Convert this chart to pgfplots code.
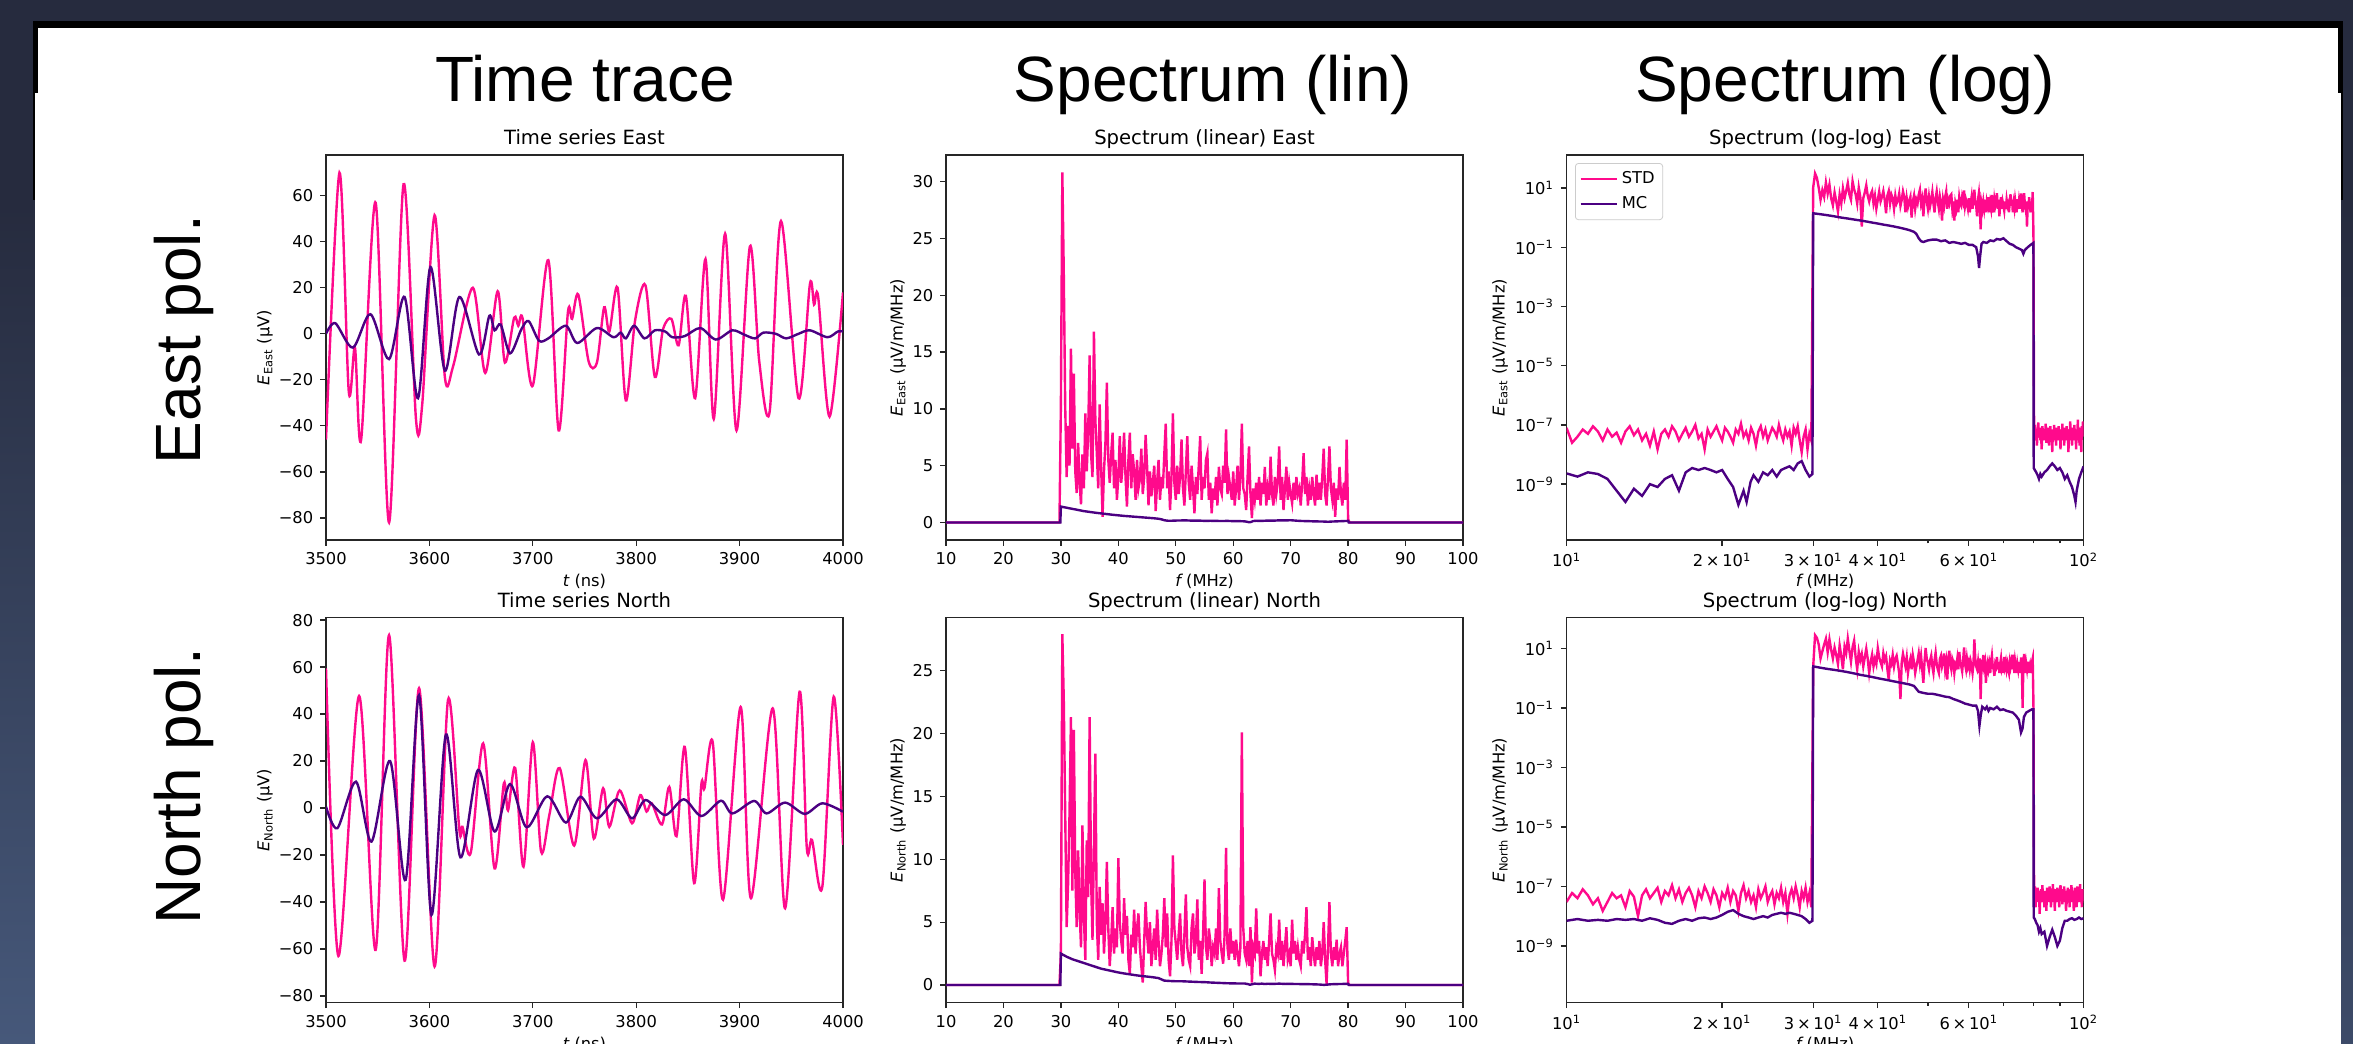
\documentclass[border=0pt]{standalone}
\usepackage{fontspec}
\setmainfont{DejaVu Sans}
\newfontfamily\arialf{Liberation Sans}
\usepackage{pgfplots}
\usepackage{pgfplotstable}
\pgfplotsset{compat=1.18}
\definecolor{stdc}{RGB}{255,10,140}
\definecolor{mcc}{RGB}{75,0,130}
\definecolor{bgc}{RGB}{38,43,62}
\definecolor{bgl}{RGB}{70,88,122}
\newcommand\tk{\fontsize{8.15pt}{9pt}\selectfont}
\newcommand\ttl{\fontsize{9.8pt}{11pt}\selectfont}
\newcommand\bigttl{\arialf\fontsize{32pt}{36pt}\selectfont}
\newcommand\sps[1]{\textsuperscript{#1}}

\pgfplotsset{
  mpl/.style={
    scale only axis, width=258.5pt, height=192.5pt,
    axis line style={black!85, line width=0.65pt},
    tick align=outside, tick pos=left,
    major tick length=2.85pt, minor tick length=1.63pt,
    every tick/.style={black!85, line width=0.65pt},
    ticklabel style={font=\tk},
    label style={font=\tk},
    every axis x label/.style={at={(axis description cs:0.5,0)}, anchor=base, yshift=-23.5pt, font=\tk},
    every axis title/.style={at={(0.5,1)}, anchor=base, yshift=5pt, font=\ttl},
    every axis plot/.append style={line width=1.2pt},
  },
  timeax/.style={mpl, xmin=3500, xmax=4000,
    xtick={3500,3600,3700,3800,3900,4000},
    xticklabels={3500,3600,3700,3800,3900,4000},
    every axis y label/.style={at={(axis description cs:-0.118,0.5)}, rotate=90, anchor=center, font=\tk},
    xlabel={{\itshape t} (ns)}},
  linax/.style={mpl, xmin=10, xmax=100,
    xtick={10,20,30,40,50,60,70,80,90,100},
    xticklabels={10,20,30,40,50,60,70,80,90,100},
    every axis y label/.style={at={(axis description cs:-0.0927,0.5)}, rotate=90, anchor=center, font=\tk},
    xlabel={{\itshape f} (MHz)}},
  logax/.style={mpl, xmin=10, xmax=100,
    xtick={10,100}, xticklabels={10\sps{1},10\sps{2}},
    extra x ticks={20,30,40,60},
    extra x tick labels={2\,×\,10\sps{1},3\,×\,10\sps{1},4\,×\,10\sps{1},6\,×\,10\sps{1}},
    minor xtick={50,70,80,90}, yminorticks=false,
    ytick={1e-9,1e-7,1e-5,1e-3,1e-1,1e1},
    yticklabels={10\sps{−9},10\sps{−7},10\sps{−5},10\sps{−3},10\sps{−1},10\sps{1}},
    every axis y label/.style={at={(axis description cs:-0.1286,0.5)}, rotate=90, anchor=center, font=\tk},
    xlabel={{\itshape f} (MHz)}},
}

% ---------- spectra, East (f in MHz, amplitude in muV/m/MHz) ----------
\pgfplotstableread[row sep=\\]{f v\\
10.00 8e-8\\ 10.25 2.5e-8\\ 10.50 4e-8\\ 10.75 7e-8\\ 11.00 5e-8\\ 11.25 9e-8\\ 11.50 6e-8\\ 11.75 3e-8\\
12.00 7e-8\\ 12.25 4e-8\\ 12.50 5.5e-8\\ 12.75 2.5e-8\\ 13.00 6e-8\\ 13.25 9e-8\\ 13.50 4.5e-8\\ 13.75 7e-8\\
14.00 3e-8\\ 14.25 5e-8\\ 14.50 2e-8\\ 14.75 6e-8\\ 15.00 1.5e-8\\ 15.25 5e-8\\ 15.50 7e-8\\ 15.75 4e-8\\
16.00 9e-8\\ 16.25 6e-8\\ 16.50 3e-8\\ 16.75 5e-8\\ 17.00 8e-8\\ 17.25 4e-8\\ 17.50 6e-8\\ 17.75 1e-7\\
18.00 3.5e-8\\ 18.25 5e-8\\ 18.50 1.5e-8\\ 18.75 7e-8\\ 19.00 4e-8\\ 19.25 6e-8\\ 19.50 9e-8\\ 19.75 5e-8\\
20.00 3e-8\\ 20.25 8e-8\\ 20.50 6e-8\\ 20.75 4e-8\\ 21.00 2.5e-8\\ 21.25 7e-8\\ 21.50 5e-8\\ 21.75 1.1e-7\\
22.00 4e-8\\ 22.25 6e-8\\ 22.50 3e-8\\ 22.75 8e-8\\ 23.00 5e-8\\ 23.25 2e-8\\ 23.50 6e-8\\ 23.75 9e-8\\
24.00 4e-8\\ 24.25 7e-8\\ 24.50 3e-8\\ 24.75 5e-8\\ 25.00 8e-8\\ 25.25 6e-8\\ 25.50 4e-8\\ 25.75 1e-7\\
26.00 5e-8\\ 26.25 3e-8\\ 26.50 7e-8\\ 26.75 4e-8\\ 27.00 6e-8\\ 27.25 2e-8\\ 27.50 8e-8\\ 27.75 5e-8\\
28.00 9e-8\\ 28.25 3e-8\\ 28.50 1.2e-8\\ 28.75 4e-8\\ 29.00 7e-8\\ 29.25 1.5e-8\\ 29.50 5e-8\\ 29.75 3e-8\\
30.00 10.5\\ 30.25 30.8\\ 30.50 22.0\\ 30.75 10.2\\ 31.00 4.0\\ 31.25 8.5\\ 31.50 5.0\\ 31.75 15.3\\
32.00 6.5\\ 32.25 13.1\\ 32.50 4.5\\ 32.75 2.6\\ 33.00 7.0\\ 33.25 3.5\\ 33.50 1.6\\ 33.75 6.0\\
34.00 3.0\\ 34.25 9.6\\ 34.50 4.5\\ 34.75 8.0\\ 35.00 14.7\\ 35.25 6.0\\ 35.50 4.0\\ 35.75 16.8\\
36.00 9.0\\ 36.25 6.1\\ 36.50 3.0\\ 36.75 10.4\\ 37.00 5.0\\ 37.25 0.5\\ 37.50 4.5\\ 37.75 7.0\\
38.00 12.3\\ 38.25 5.5\\ 38.50 3.5\\ 38.75 6.0\\ 39.00 7.9\\ 39.25 3.0\\ 39.50 5.5\\ 39.75 2.0\\
40.00 4.0\\ 40.25 7.6\\ 40.50 3.5\\ 40.75 5.0\\ 41.00 7.9\\ 41.25 4.0\\ 41.50 1.4\\ 41.75 5.5\\
42.00 7.9\\ 42.25 3.0\\ 42.50 6.0\\ 42.75 4.5\\ 43.00 2.0\\ 43.25 5.5\\ 43.50 3.0\\ 43.75 3.8\\
44.00 6.5\\ 44.25 2.5\\ 44.50 4.0\\ 44.75 7.7\\ 45.00 5.0\\ 45.25 1.5\\ 45.50 4.5\\ 45.75 2.3\\
46.00 3.5\\ 46.25 5.0\\ 46.50 1.0\\ 46.75 3.5\\ 47.00 5.5\\ 47.25 2.0\\ 47.50 4.0\\ 47.75 3.0\\
48.00 6.0\\ 48.25 8.7\\ 48.50 3.0\\ 48.75 4.5\\ 49.00 1.1\\ 49.25 4.0\\ 49.50 9.6\\ 49.75 3.5\\
50.00 2.0\\ 50.25 5.0\\ 50.50 2.5\\ 50.75 4.0\\ 51.00 7.3\\ 51.25 3.0\\ 51.50 1.5\\ 51.75 4.5\\
52.00 7.6\\ 52.25 3.5\\ 52.50 2.0\\ 52.75 5.0\\ 53.00 3.0\\ 53.25 0.8\\ 53.50 4.0\\ 53.75 2.5\\
54.00 5.0\\ 54.25 7.6\\ 54.50 2.0\\ 54.75 4.0\\ 55.00 3.0\\ 55.25 5.5\\ 55.50 6.1\\ 55.75 2.0\\
56.00 3.5\\ 56.25 0.8\\ 56.50 3.0\\ 56.75 2.0\\ 57.00 4.0\\ 57.25 1.5\\ 57.50 4.9\\ 57.75 3.0\\
58.00 2.5\\ 58.25 5.0\\ 58.50 3.5\\ 58.75 8.2\\ 59.00 2.5\\ 59.25 4.0\\ 59.50 3.0\\ 59.75 2.0\\
60.00 4.5\\ 60.25 1.5\\ 60.50 3.0\\ 60.75 5.0\\ 61.00 2.0\\ 61.25 4.0\\ 61.50 8.7\\ 61.75 3.0\\
62.00 2.5\\ 62.25 1.1\\ 62.50 4.0\\ 62.75 6.7\\ 63.00 2.5\\ 63.25 0.4\\ 63.50 3.0\\ 63.75 2.0\\
64.00 3.5\\ 64.25 2.0\\ 64.50 4.0\\ 64.75 1.5\\ 65.00 3.5\\ 65.25 2.5\\ 65.50 4.9\\ 65.75 1.5\\
66.00 3.0\\ 66.25 2.0\\ 66.50 5.8\\ 66.75 2.5\\ 67.00 1.5\\ 67.25 4.0\\ 67.50 2.5\\ 67.75 3.5\\
68.00 6.7\\ 68.25 2.0\\ 68.50 4.0\\ 68.75 1.1\\ 69.00 3.0\\ 69.25 4.9\\ 69.50 2.0\\ 69.75 3.5\\
70.00 2.5\\ 70.25 1.7\\ 70.50 3.5\\ 70.75 2.0\\ 71.00 4.0\\ 71.25 2.5\\ 71.50 3.0\\ 71.75 1.5\\
72.00 3.5\\ 72.25 6.1\\ 72.50 2.5\\ 72.75 4.0\\ 73.00 1.5\\ 73.25 3.0\\ 73.50 2.0\\ 73.75 4.0\\
74.00 2.5\\ 74.25 1.5\\ 74.50 4.2\\ 74.75 2.0\\ 75.00 3.5\\ 75.25 2.0\\ 75.50 4.0\\ 75.75 6.5\\
76.00 2.5\\ 76.25 1.5\\ 76.50 4.0\\ 76.75 6.7\\ 77.00 3.0\\ 77.25 2.0\\ 77.50 3.5\\ 77.75 0.5\\
78.00 3.0\\ 78.25 2.0\\ 78.50 4.9\\ 78.75 2.5\\ 79.00 1.5\\ 79.25 3.5\\ 79.50 2.0\\ 79.75 7.3\\
80.00 0.3\\
80.25 3e-8\\ 80.50 1e-7\\ 80.75 4e-8\\ 81.00 7e-8\\ 81.25 2e-8\\ 81.50 6e-8\\ 81.75 1.2e-7\\ 82.00 4e-8\\
82.25 8e-8\\ 82.50 3e-8\\ 82.75 5e-8\\ 83.00 1.5e-8\\ 83.25 9e-8\\ 83.50 5e-8\\ 83.75 3e-8\\ 84.00 7e-8\\
84.25 4e-8\\ 84.50 1.1e-7\\ 84.75 2.5e-8\\ 85.00 6e-8\\ 85.25 4e-8\\ 85.50 8e-8\\ 85.75 2e-8\\ 86.00 5e-8\\
86.25 9e-8\\ 86.50 3e-8\\ 86.75 6e-8\\ 87.00 1.2e-8\\ 87.25 7e-8\\ 87.50 4e-8\\ 87.75 1e-7\\ 88.00 3e-8\\
88.25 6e-8\\ 88.50 2e-8\\ 88.75 8e-8\\ 89.00 5e-8\\ 89.25 3e-8\\ 89.50 9e-8\\ 89.75 4e-8\\ 90.00 6e-8\\
90.25 1.5e-8\\ 90.50 7e-8\\ 90.75 4e-8\\ 91.00 1.1e-7\\ 91.25 3e-8\\ 91.50 6e-8\\ 91.75 2e-8\\ 92.00 8e-8\\
92.25 5e-8\\ 92.50 3e-8\\ 92.75 9e-8\\ 93.00 4e-8\\ 93.25 6e-8\\ 93.50 1.2e-8\\ 93.75 7e-8\\ 94.00 4e-8\\
94.25 1.3e-7\\ 94.50 3e-8\\ 94.75 6e-8\\ 95.00 2e-8\\ 95.25 8e-8\\ 95.50 5e-8\\ 95.75 3e-8\\ 96.00 1e-7\\
96.25 4e-8\\ 96.50 6e-8\\ 96.75 1.5e-8\\ 97.00 7e-8\\ 97.25 4e-8\\ 97.50 1.5e-7\\ 97.75 3e-8\\ 98.00 6e-8\\
98.25 2e-8\\ 98.50 8e-8\\ 98.75 5e-8\\ 99.00 1.2e-8\\ 99.25 9e-8\\ 99.50 4e-8\\ 99.75 1.3e-7\\ 100.00 6e-8\\
}\stdE

\pgfplotstableread[row sep=\\]{f v\\
10 2.3e-9\\ 10.5 1.8e-9\\ 11 2.5e-9\\ 11.5 2.2e-9\\ 12 1.5e-9\\ 12.5 6e-10\\ 13 2.5e-10\\ 13.5 7e-10\\
14 4e-10\\ 14.5 1.0e-9\\ 15 8e-10\\ 15.5 1.5e-9\\ 16 2.0e-9\\ 16.5 6e-10\\ 17 2.5e-9\\ 17.5 3.5e-9\\
18 3e-9\\ 18.5 3.5e-9\\ 19 3e-9\\ 19.5 2.5e-9\\ 20 3e-9\\ 20.5 1.5e-9\\ 21 8e-10\\ 21.5 2e-10\\
22 6e-10\\ 22.3 2.5e-10\\ 22.7 1.2e-9\\ 23 2.0e-9\\ 23.5 1.2e-9\\ 24 2.5e-9\\ 24.5 2e-9\\ 25 3e-9\\
25.5 1.8e-9\\ 26 3e-9\\ 26.5 3.5e-9\\ 27 4e-9\\ 27.5 3e-9\\ 28 5e-9\\ 28.5 6e-9\\ 29 3e-9\\ 29.5 1.8e-9\\ 29.9 2.2e-9\\
30 1.40\\ 31 1.30\\ 32 1.20\\ 33 1.10\\ 34 1.00\\ 35 0.93\\ 36 0.86\\ 37 0.80\\ 38 0.74\\ 39 0.68\\
40 0.63\\ 41 0.58\\ 42 0.54\\ 43 0.50\\ 44 0.46\\ 45 0.42\\ 46 0.38\\ 47 0.33\\ 47.5 0.28\\ 48 0.20\\
48.5 0.16\\ 49 0.15\\ 50 0.17\\ 51 0.18\\ 52 0.18\\ 53 0.16\\ 54 0.17\\ 55 0.14\\ 56 0.15\\ 57 0.14\\
58 0.13\\ 59 0.14\\ 60 0.12\\ 61 0.12\\ 62 0.10\\ 62.5 0.05\\ 62.8 0.02\\ 63.1 0.05\\ 63.5 0.13\\ 64 0.15\\
65 0.14\\ 66 0.17\\ 67 0.16\\ 68 0.19\\ 69 0.18\\ 70 0.20\\ 71 0.16\\ 72 0.13\\ 73 0.12\\ 74 0.10\\
75 0.09\\ 76 0.08\\ 76.5 0.06\\ 77 0.08\\ 78 0.10\\ 79 0.12\\ 80 0.14\\
80.1 3.5e-9\\ 80.5 3e-9\\ 81 2.5e-9\\ 81.5 2e-9\\ 82 1.5e-9\\ 82.5 2.2e-9\\ 83 1.8e-9\\ 84 2.5e-9\\
85 3e-9\\ 86 4e-9\\ 87 5e-9\\ 88 4e-9\\ 89 3e-9\\ 90 3.5e-9\\ 91 2.5e-9\\ 92 1.5e-9\\ 93 2e-9\\
94 1.2e-9\\ 95 8e-10\\ 96 4e-10\\ 96.5 2.5e-10\\ 97 6e-10\\ 98 1.5e-9\\ 99 2.5e-9\\ 100 4e-9\\
}\mcE

% ---------- spectra, North ----------
\pgfplotstableread[row sep=\\]{f v\\
10.00 3e-8\\ 10.25 6e-8\\ 10.50 4e-8\\ 10.75 8e-8\\ 11.00 5e-8\\ 11.25 2.5e-8\\ 11.50 4e-8\\ 11.75 1.5e-8\\
12.00 3e-8\\ 12.25 6e-8\\ 12.50 4e-8\\ 12.75 5e-8\\ 13.00 2e-8\\ 13.25 7e-8\\ 13.50 4.5e-8\\ 13.75 1e-8\\
14.00 5e-8\\ 14.25 8e-8\\ 14.50 4e-8\\ 14.75 6e-8\\ 15.00 9e-8\\ 15.25 3e-8\\ 15.50 7e-8\\ 15.75 5e-8\\
16.00 1.1e-7\\ 16.25 4e-8\\ 16.50 8e-8\\ 16.75 3e-8\\ 17.00 6e-8\\ 17.25 9e-8\\ 17.50 5e-8\\ 17.75 2e-8\\
18.00 7e-8\\ 18.25 4e-8\\ 18.50 1e-7\\ 18.75 6e-8\\ 19.00 3e-8\\ 19.25 8e-8\\ 19.50 5e-8\\ 19.75 2e-8\\
20.00 6e-8\\ 20.25 4e-8\\ 20.50 9e-8\\ 20.75 3e-8\\ 21.00 7e-8\\ 21.25 5e-8\\ 21.50 1.5e-8\\ 21.75 6e-8\\
22.00 1.1e-7\\ 22.25 4e-8\\ 22.50 7e-8\\ 22.75 3e-8\\ 23.00 5e-8\\ 23.25 2e-8\\ 23.50 8e-8\\ 23.75 4e-8\\
24.00 6e-8\\ 24.25 1e-7\\ 24.50 3e-8\\ 24.75 5e-8\\ 25.00 7e-8\\ 25.25 2.5e-8\\ 25.50 6e-8\\ 25.75 4e-8\\
26.00 9e-8\\ 26.25 3e-8\\ 26.50 6e-8\\ 26.75 1.2e-8\\ 27.00 5e-8\\ 27.25 8e-8\\ 27.50 4e-8\\ 27.75 1e-7\\
28.00 5e-8\\ 28.25 2e-8\\ 28.50 7e-8\\ 28.75 4e-8\\ 29.00 9e-8\\ 29.25 3e-8\\ 29.50 6e-8\\ 29.75 2e-8\\
30.00 2.5\\ 30.25 27.9\\ 30.50 22.7\\ 30.75 13.6\\ 31.00 4.6\\ 31.25 8.0\\ 31.50 13.6\\ 31.75 21.3\\
32.00 7.5\\ 32.25 20.3\\ 32.50 9.0\\ 32.75 4.6\\ 33.00 10.7\\ 33.25 6.0\\ 33.50 3.0\\ 33.75 12.7\\
34.00 5.5\\ 34.25 2.0\\ 34.50 11.5\\ 34.75 7.0\\ 35.00 21.3\\ 35.25 8.5\\ 35.50 3.6\\ 35.75 11.0\\
36.00 18.4\\ 36.25 5.0\\ 36.50 2.0\\ 36.75 7.8\\ 37.00 4.0\\ 37.25 6.5\\ 37.50 2.5\\ 37.75 5.0\\
38.00 9.8\\ 38.25 4.5\\ 38.50 1.5\\ 38.75 3.5\\ 39.00 6.2\\ 39.25 2.5\\ 39.50 4.5\\ 39.75 3.0\\
40.00 10.1\\ 40.25 5.0\\ 40.50 3.5\\ 40.75 2.5\\ 41.00 6.9\\ 41.25 4.0\\ 41.50 5.5\\ 41.75 2.0\\
42.00 0.9\\ 42.25 4.0\\ 42.50 3.0\\ 42.75 6.0\\ 43.00 2.5\\ 43.25 4.5\\ 43.50 5.7\\ 43.75 3.0\\
44.00 1.5\\ 44.25 0.2\\ 44.50 3.5\\ 44.75 6.6\\ 45.00 4.0\\ 45.25 2.5\\ 45.50 5.0\\ 45.75 1.5\\
46.00 3.0\\ 46.25 4.5\\ 46.50 2.0\\ 46.75 6.0\\ 47.00 3.5\\ 47.25 1.5\\ 47.50 2.5\\ 47.75 4.0\\
48.00 6.9\\ 48.25 3.0\\ 48.50 5.7\\ 48.75 2.0\\ 49.00 0.7\\ 49.25 3.5\\ 49.50 10.3\\ 49.75 4.5\\
50.00 3.3\\ 50.25 2.0\\ 50.50 4.0\\ 50.75 5.7\\ 51.00 2.5\\ 51.25 1.5\\ 51.50 4.0\\ 51.75 7.2\\
52.00 3.0\\ 52.25 2.0\\ 52.50 1.5\\ 52.75 4.5\\ 53.00 5.7\\ 53.25 2.5\\ 53.50 3.5\\ 53.75 6.8\\
54.00 2.0\\ 54.25 3.5\\ 54.50 0.9\\ 54.75 4.0\\ 55.00 8.4\\ 55.25 3.0\\ 55.50 2.0\\ 55.75 4.5\\
56.00 3.5\\ 56.25 1.5\\ 56.50 3.0\\ 56.75 2.5\\ 57.00 4.5\\ 57.25 2.0\\ 57.50 7.7\\ 57.75 3.5\\
58.00 2.5\\ 58.25 1.7\\ 58.50 4.0\\ 58.75 10.9\\ 59.00 3.0\\ 59.25 2.0\\ 59.50 4.5\\ 59.75 2.5\\
60.00 3.5\\ 60.25 2.0\\ 60.50 3.6\\ 60.75 2.5\\ 61.00 1.5\\ 61.25 3.0\\ 61.50 20.1\\ 61.75 4.5\\
62.00 2.5\\ 62.25 2.0\\ 62.50 3.5\\ 62.75 1.5\\ 63.00 4.6\\ 63.25 0.2\\ 63.50 3.0\\ 63.75 2.5\\
64.00 6.1\\ 64.25 2.5\\ 64.50 3.5\\ 64.75 0.7\\ 65.00 2.5\\ 65.25 3.5\\ 65.50 2.0\\ 65.75 3.0\\
66.00 1.5\\ 66.25 3.5\\ 66.50 5.7\\ 66.75 2.5\\ 67.00 2.0\\ 67.25 1.2\\ 67.50 3.0\\ 67.75 2.5\\
68.00 5.2\\ 68.25 2.0\\ 68.50 3.5\\ 68.75 1.5\\ 69.00 3.0\\ 69.25 4.6\\ 69.50 2.0\\ 69.75 2.5\\
70.00 1.5\\ 70.25 5.2\\ 70.50 2.5\\ 70.75 3.5\\ 71.00 2.0\\ 71.25 3.0\\ 71.50 2.0\\ 71.75 1.5\\
72.00 3.5\\ 72.25 2.5\\ 72.50 4.0\\ 72.75 6.2\\ 73.00 2.0\\ 73.25 3.0\\ 73.50 1.5\\ 73.75 3.8\\
74.00 2.5\\ 74.25 1.5\\ 74.50 3.0\\ 74.75 2.0\\ 75.00 3.5\\ 75.25 1.5\\ 75.50 2.5\\ 75.75 5.0\\
76.00 2.0\\ 76.25 0.1\\ 76.50 3.0\\ 76.75 6.6\\ 77.00 2.5\\ 77.25 1.5\\ 77.50 3.0\\ 77.75 2.0\\
78.00 3.6\\ 78.25 1.5\\ 78.50 2.5\\ 78.75 3.0\\ 79.00 1.5\\ 79.25 2.5\\ 79.50 3.5\\ 79.75 4.6\\
80.00 0.15\\
80.25 4e-8\\ 80.50 1e-7\\ 80.75 2e-8\\ 81.00 6e-8\\ 81.25 4e-8\\ 81.50 9e-8\\ 81.75 3e-8\\ 82.00 7e-8\\
82.25 1.2e-8\\ 82.50 5e-8\\ 82.75 8e-8\\ 83.00 3e-8\\ 83.25 1.1e-7\\ 83.50 4e-8\\ 83.75 6e-8\\ 84.00 2e-8\\
84.25 7e-8\\ 84.50 5e-8\\ 84.75 1.5e-8\\ 85.00 9e-8\\ 85.25 4e-8\\ 85.50 6e-8\\ 85.75 3e-8\\ 86.00 1e-7\\
86.25 5e-8\\ 86.50 2e-8\\ 86.75 7e-8\\ 87.00 4e-8\\ 87.25 1.2e-7\\ 87.50 3e-8\\ 87.75 6e-8\\ 88.00 1.5e-8\\
88.25 8e-8\\ 88.50 5e-8\\ 88.75 3e-8\\ 89.00 9e-8\\ 89.25 4e-8\\ 89.50 7e-8\\ 89.75 2e-8\\ 90.00 6e-8\\
90.25 1.1e-7\\ 90.50 4e-8\\ 90.75 6e-8\\ 91.00 2.5e-8\\ 91.25 8e-8\\ 91.50 4e-8\\ 91.75 1e-7\\ 92.00 3e-8\\
92.25 6e-8\\ 92.50 1.5e-8\\ 92.75 7e-8\\ 93.00 5e-8\\ 93.25 9e-8\\ 93.50 3e-8\\ 93.75 6e-8\\ 94.00 2e-8\\
94.25 8e-8\\ 94.50 4e-8\\ 94.75 1.1e-7\\ 95.00 5e-8\\ 95.25 3e-8\\ 95.50 7e-8\\ 95.75 1.5e-8\\ 96.00 6e-8\\
96.25 9e-8\\ 96.50 4e-8\\ 96.75 6e-8\\ 97.00 2e-8\\ 97.25 1e-7\\ 97.50 5e-8\\ 97.75 3e-8\\ 98.00 7e-8\\
98.25 4e-8\\ 98.50 1.2e-7\\ 98.75 3e-8\\ 99.00 6e-8\\ 99.25 2e-8\\ 99.50 8e-8\\ 99.75 5e-8\\ 100.00 7e-8\\
}\stdN

\pgfplotstableread[row sep=\\]{f v\\
10 7e-9\\ 10.5 8e-9\\ 11 7e-9\\ 11.5 7.5e-9\\ 12 7e-9\\ 12.5 8e-9\\ 13 7.5e-9\\ 13.5 8e-9\\
14 7e-9\\ 14.5 8.5e-9\\ 15 7.5e-9\\ 15.5 6e-9\\ 16 5.5e-9\\ 16.5 7e-9\\ 17 8e-9\\ 17.5 7e-9\\
18 8.5e-9\\ 18.5 9e-9\\ 19 8e-9\\ 19.5 9e-9\\ 20 1.1e-8\\ 20.5 1.4e-8\\ 21 1.6e-8\\ 21.5 1.2e-8\\
22 1.0e-8\\ 22.5 9e-9\\ 23 8e-9\\ 23.5 9e-9\\ 24 1.0e-8\\ 24.5 9e-9\\ 25 1.1e-8\\ 25.5 1.2e-8\\
26 1.3e-8\\ 26.5 1.2e-8\\ 27 1.3e-8\\ 27.5 1.2e-8\\ 28 1.1e-8\\ 28.5 1.0e-8\\ 29 8e-9\\ 29.5 6e-9\\ 29.9 7e-9\\
30 2.50\\ 31 2.25\\ 32 2.05\\ 33 1.90\\ 34 1.75\\ 35 1.60\\ 36 1.45\\ 37 1.30\\ 38 1.20\\ 39 1.10\\
40 1.00\\ 41 0.92\\ 42 0.85\\ 43 0.78\\ 44 0.72\\ 45 0.67\\ 46 0.62\\ 47 0.55\\ 48 0.35\\ 49 0.32\\
50 0.30\\ 51 0.30\\ 52 0.28\\ 53 0.26\\ 54 0.24\\ 55 0.23\\ 56 0.20\\ 57 0.18\\ 58 0.16\\ 59 0.14\\
60 0.13\\ 61 0.12\\ 62 0.12\\ 62.5 0.08\\ 62.9 0.025\\ 63.3 0.06\\ 63.7 0.11\\ 64.5 0.09\\ 65 0.11\\
65.5 0.08\\ 66 0.10\\ 67 0.09\\ 68 0.11\\ 69 0.085\\ 70 0.09\\ 71 0.08\\ 72 0.075\\ 73 0.07\\ 74 0.055\\
75 0.04\\ 75.7 0.015\\ 76.2 0.02\\ 76.7 0.05\\ 77.5 0.07\\ 78.5 0.08\\ 79.5 0.09\\ 80 0.09\\
80.1 9e-9\\ 80.5 8e-9\\ 81 6e-9\\ 81.5 5e-9\\ 82 3e-9\\ 82.5 4e-9\\ 83 2.5e-9\\ 84 3e-9\\
85 1e-9\\ 86 2e-9\\ 87 3.5e-9\\ 88 2e-9\\ 89 1e-9\\ 90 1.5e-9\\ 91 4e-9\\ 92 7e-9\\ 93 7e-9\\
94 8e-9\\ 95 8.5e-9\\ 96 7.5e-9\\ 97 8e-9\\ 98 9e-9\\ 99 8e-9\\ 100 8.5e-9\\
}\mcN

\begin{document}
\begin{tikzpicture}
\useasboundingbox (0,0) rectangle (1176.5pt,521.5pt);
% slide background
\fill[bgc] (0,0) rectangle (1176.5pt,521.5pt);
\shade[top color=bgc, bottom color=bgl] (0,0) rectangle (17.5pt,420pt);
\shade[top color=bgc, bottom color=bgl!70!bgc] (1170.5pt,0) rectangle (1176.5pt,420pt);
\fill[white] (17.5pt,0) rectangle (1170.5pt,508pt);
\fill[black] (16.5pt,507.5pt) rectangle (1171.5pt,511pt);
\fill[black] (16.5pt,475pt) rectangle (19pt,511pt);
\fill[black] (16.5pt,421.5pt) rectangle (17.5pt,475pt);
\fill[black] (1169pt,475pt) rectangle (1171.5pt,511pt);
\fill[black] (1170.5pt,421.5pt) rectangle (1171.5pt,475pt);

% slide headings
\node[font=\bigttl, anchor=base, inner sep=0] at (292.5pt,470.5pt) {Time trace};
\node[font=\bigttl, anchor=base, inner sep=0] at (606.5pt,470.5pt) {Spectrum (lin)};
\node[font=\bigttl, anchor=base, inner sep=0] at (922.5pt,470.5pt) {Spectrum (log)};
\node[font=\bigttl, anchor=base, inner sep=0, rotate=90] at (100pt,351.75pt) {East pol.};
\node[font=\bigttl, anchor=base, inner sep=0, rotate=90] at (100pt,128.5pt) {North pol.};

% ===== Time series East =====
\begin{axis}[timeax, at={(163pt,251.5pt)}, anchor=south west,
  ymin=-89.6, ymax=77.7,
  ytick={-80,-60,-40,-20,0,20,40,60},
  yticklabels={−80,−60,−40,−20,0,20,40,60},
  ylabel={{\itshape E}\textsubscript{East}\ (µV)},
  title={Time series East}]
\addplot[stdc, smooth] coordinates {
(3500,-46) (3513,70) (3522,-25) (3528,-6) (3534,-46) (3548,57) (3561,-82) (3575,65)
(3587,-37) (3593,-31) (3605,51.5) (3615,-19) (3623,-14) (3642,20) (3654,-17) (3666,18.5)
(3673,-12.5) (3682,7) (3686,3.5) (3690,7) (3700,-22.5) (3715,32) (3725,-42) (3734,9.5)
(3738,6.5) (3744,17) (3754,-12) (3762,-12.5) (3769,11.5) (3774,1) (3782,20) (3790,-29)
(3799,6) (3809,21) (3818,-18.7) (3826,2) (3834,6.5) (3841,-5) (3848,16.5) (3857,-28)
(3867,32.5) (3875,-37) (3886,43.5) (3897,-42) (3910,38) (3919,-12) (3929,-34) (3940,49)
(3957,-28) (3968,21.6) (3972,12.7) (3976,16) (3987,-36) (4000,18)};
\addplot[mcc, smooth] coordinates {
(3500,0) (3509,4.6) (3526,-6) (3543,8.5) (3561,-11) (3576,16) (3589,-28) (3601,29)
(3615,-16) (3629,16) (3648,-9) (3658,7.8) (3663,1.5) (3669,4) (3678,-8.5) (3689,2)
(3696,5.5) (3706,-3) (3715,-2) (3732,3.5) (3743,-4) (3762,2.5) (3778,-1.5) (3785,0.5)
(3790,-2) (3798,3.5) (3808,-2) (3818,1.5) (3828,1) (3835,-1.5) (3847,-1) (3862,2.5)
(3877,-2.5) (3893,1.5) (3905,-0.5) (3915,-2) (3923,0.5) (3935,0) (3945,-2) (3957,0)
(3968,1.5) (3985,-1.5) (3995,1) (4000,1)};
\end{axis}

% ===== Time series North =====
\begin{axis}[timeax, at={(163pt,20.25pt)}, anchor=south west,
  ymin=-82.8, ymax=81.1,
  ytick={-80,-60,-40,-20,0,20,40,60,80},
  yticklabels={−80,−60,−40,−20,0,20,40,60,80},
  ylabel={{\itshape E}\textsubscript{North}\ (µV)},
  title={Time series North}]
\addplot[stdc, smooth] coordinates {
(3500,59.4) (3512,-63) (3532,47.7) (3548,-60.4) (3561,73.6) (3576,-65) (3590,51) (3605,-67.5)
(3618,46) (3629,-9.4) (3632,-8) (3640,-19) (3652,27.5) (3663,-25.7) (3672,10.5) (3676,-1)
(3683,17) (3691,-25) (3700,28) (3708,-18.6) (3716,-3) (3726,17) (3740,-16) (3751,20.4)
(3759,-13) (3768,8.4) (3774,-8) (3784,7.5) (3796,-6.5) (3804,5.5) (3810,-1.5) (3815,2)
(3825,-7) (3832,9) (3839,-12) (3847,26) (3856,-32) (3863,10) (3866,8.4) (3874,28)
(3884,-39) (3901,43) (3911,-38.4) (3932,42.4) (3944,-42.7) (3958,49.5) (3965,-17) (3970,-13.6)
(3980,-33.5) (3991,47.4) (4000,-15.7)};
\addplot[mcc, smooth] coordinates {
(3500,0.6) (3511,-8.6) (3529,11.2) (3544,-14.3) (3562,20) (3577,-30.6) (3590,48) (3602,-45.5)
(3616,31.3) (3630,-21) (3647,16.2) (3663,-10) (3678,10.2) (3694,-8.2) (3714,5) (3732,-6.2)
(3746,4.8) (3762,-4.4) (3781,3.7) (3796,-4.4) (3809,3.4) (3828,-3) (3846,3.7) (3863,-3.4)
(3882,3.1) (3893,-2.3) (3914,3) (3926,-2.3) (3944,2.3) (3963,-2.5) (3980,2) (4000,-1.6)};
\end{axis}

% ===== Spectrum linear East =====
\begin{axis}[linax, at={(473pt,251.5pt)}, anchor=south west,
  ymin=-1.54, ymax=32.34,
  ytick={0,5,10,15,20,25,30}, yticklabels={0,5,10,15,20,25,30},
  ylabel={{\itshape E}\textsubscript{East}\ (µV/m/MHz)},
  title={Spectrum (linear) East}]
\addplot[stdc] table[x=f,y=v]{\stdE};
\addplot[mcc] table[x=f,y=v]{\mcE};
\end{axis}

% ===== Spectrum linear North =====
\begin{axis}[linax, at={(473pt,20.25pt)}, anchor=south west,
  ymin=-1.39, ymax=29.23,
  ytick={0,5,10,15,20,25}, yticklabels={0,5,10,15,20,25},
  ylabel={{\itshape E}\textsubscript{North}\ (µV/m/MHz)},
  title={Spectrum (linear) North}]
\addplot[stdc] table[x=f,y=v]{\stdN};
\addplot[mcc] table[x=f,y=v]{\mcN};
\end{axis}

% ===== Spectrum log East =====
\begin{loglogaxis}[logax, at={(783.25pt,251.5pt)}, anchor=south west,
  ymin=1.3e-11, ymax=1.3e2,
  ylabel={{\itshape E}\textsubscript{East}\ (µV/m/MHz)},
  title={Spectrum (log-log) East},
  legend cell align=left,
  legend style={at={(0.0164,0.979)}, anchor=north west, font=\tk,
    draw=black!20, fill=white, fill opacity=0.8, text opacity=1,
    rounded corners=1.5pt, inner xsep=2pt, inner ysep=2pt, row sep=1pt},
  legend image code/.code={\draw[#1] (0pt,0pt) -- (18pt,0pt);}]
\addplot[stdc] table[x=f,y=v]{\stdE};
\addlegendentry{STD}
\addplot[mcc] table[x=f,y=v]{\mcE};
\addlegendentry{MC}
\end{loglogaxis}

% ===== Spectrum log North =====
\begin{loglogaxis}[logax, at={(783.25pt,20.25pt)}, anchor=south west,
  ymin=1.25e-11, ymax=1.1e2,
  ylabel={{\itshape E}\textsubscript{North}\ (µV/m/MHz)},
  title={Spectrum (log-log) North}]
\addplot[stdc] table[x=f,y=v]{\stdN};
\addplot[mcc] table[x=f,y=v]{\mcN};
\end{loglogaxis}
\end{tikzpicture}
\end{document}
